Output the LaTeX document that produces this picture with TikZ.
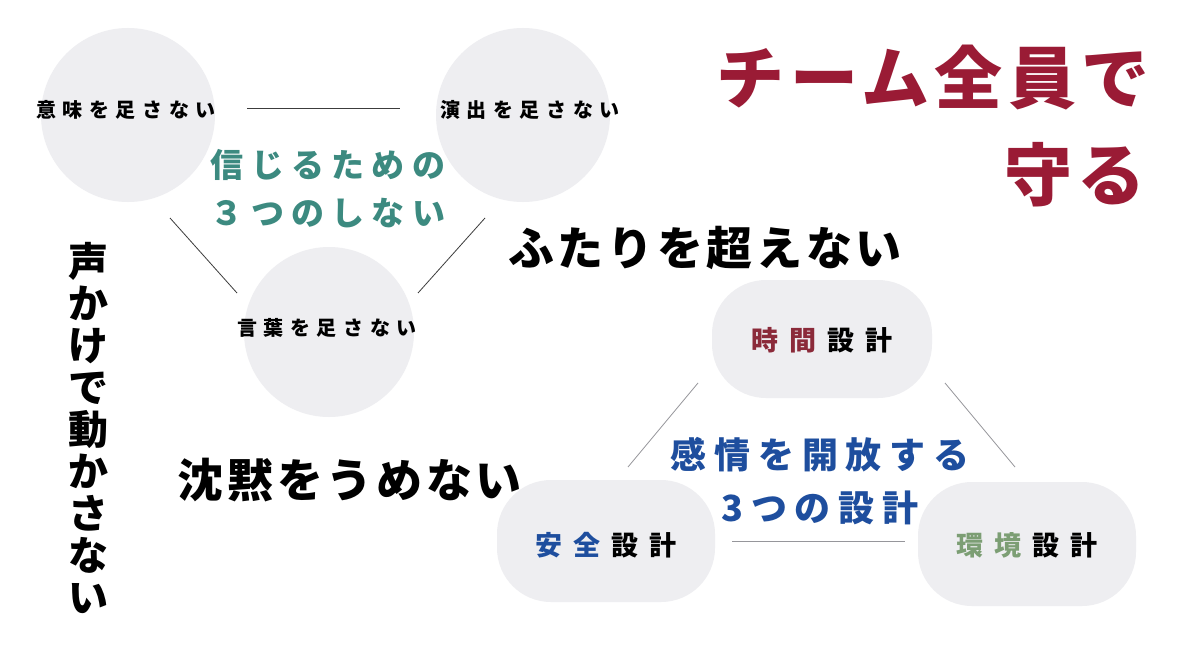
\documentclass[tikz,border=0pt]{standalone}
\usepackage{fontspec}
\usetikzlibrary{calc}
\newfontfamily\jpA[LetterSpace=33]{Noto Sans CJK JP}
\newfontfamily\jpB[LetterSpace=22]{Noto Sans CJK JP}
\newfontfamily\jpC[LetterSpace=8]{Noto Sans CJK JP}
\newfontfamily\jpE{Noto Sans CJK JP}
\newcommand\setgap{\hspace{11pt}}
\definecolor{darkred}{RGB}{154,27,53}
\definecolor{tealc}{RGB}{60,138,128}
\definecolor{bluec}{RGB}{30,78,158}
\definecolor{greenc}{RGB}{124,158,116}
\definecolor{redc}{RGB}{139,42,58}
\definecolor{blobc}{RGB}{238,238,241}
\definecolor{linec}{RGB}{60,60,60}
\definecolor{linegray}{RGB}{150,150,155}
\begin{document}
\begin{tikzpicture}[x=1pt,y=-1pt,
  blob/.style={circle,fill=blobc,draw=none,inner sep=0pt},
  pill/.style={rectangle,fill=blobc,draw=none,rounded corners=54pt,inner sep=0pt},
  lbl/.style={inner sep=0pt,font=\jpA\bfseries\fontsize{20}{22}\selectfont,text=black},
  setlbl/.style={inner sep=0pt,font=\jpE\bfseries\fontsize{27}{30}\selectfont,text=black},
  tealtxt/.style={inner sep=0pt,align=center,font=\jpB\bfseries\fontsize{33}{48}\selectfont,text=tealc},
  bluetxt/.style={inner sep=0pt,align=center,font=\jpB\bfseries\fontsize{36}{53}\selectfont,text=bluec},
  bigtxt/.style={inner sep=0pt,font=\jpC\bfseries\fontsize{46}{50}\selectfont,text=black},
  titletxt/.style={inner sep=0pt,font=\jpC\bfseries\fontsize{68}{72}\selectfont,text=darkred},
  conn/.style={draw=linec,line width=0.8pt},
  conng/.style={draw=linegray,line width=0.8pt}
]
\path[use as bounding box,fill=white] (0,0) rectangle (1188,666);

% three circles
\node[blob,minimum size=174pt] (c1) at (128,115) {};
\node[blob,minimum size=174pt] (c2) at (523,115) {};
\node[blob,minimum size=170pt] (c3) at (329,332) {};
\node[lbl] (l1) at (126,110) {意味を足さない};
\node[lbl] (l2) at (530,110) {演出を足さない};
\node[lbl] (l3) at (327,328) {言葉を足さない};

% connectors of circle triangle
\coordinate (a1) at ($(c1)+(119,-7)$);
\coordinate (a2) at ($(c2)+(-123,-7)$);
\coordinate (b1) at ($(c1)+(42,103)$);
\coordinate (b2) at ($(c3)+(-92,-39)$);
\coordinate (d1) at ($(c2)+(-38,103)$);
\coordinate (d2) at ($(c3)+(89,-39)$);
\path[conn] (a1) -- (a2);
\path[conn] (b1) -- (b2);
\path[conn] (d1) -- (d2);

\node[tealtxt] (core1) at (328,189) {信じるための\\３つのしない};

% right group
\node[pill,minimum width=220pt,minimum height=118pt] (k1) at (822,339) {};
\node[pill,minimum width=218pt,minimum height=122pt] (k2) at (606,541) {};
\node[pill,minimum width=218pt,minimum height=124pt] (k3) at (1027,544) {};
\node[setlbl] (s1) at (822,340) {\textcolor{redc}{時\setgap 間}\setgap 設\setgap 計};
\node[setlbl] (s2) at (606,545) {\textcolor{bluec}{安\setgap 全}\setgap 設\setgap 計};
\node[setlbl] (s3) at (1027,545) {\textcolor{greenc}{環\setgap 境}\setgap 設\setgap 計};

\coordinate (e1) at ($(k1)+(-124,44)$);
\coordinate (e2) at ($(k2)+(22,-74)$);
\coordinate (f1) at ($(k1)+(123,44)$);
\coordinate (f2) at ($(k3)+(-12,-77)$);
\coordinate (g1) at ($(k2)+(126,0)$);
\coordinate (g2) at ($(k3)+(-122,-3)$);
\path[conng] (e1) -- (e2);
\path[conng] (f1) -- (f2);
\path[conng] (g1) -- (g2);

\node[bluetxt] (core2) at (820,481) {感情を開放する\\3つの設計};

% headings
\node[titletxt,anchor=east] (h1) at (1150,78) {チーム全員で};
\node[titletxt,anchor=east] (h2) at (1146,175) {守る};
\node[bigtxt] (h3) at (705,248) {ふたりを超えない};
\node[bigtxt] (h4) at (350,480) {沈黙をうめない};
\node[inner sep=0pt,align=center,font=\jpE\bfseries\fontsize{40}{42}\selectfont] (h5) at (88,428) {声\\か\\け\\で\\動\\か\\さ\\な\\い};
\end{tikzpicture}
\end{document}
